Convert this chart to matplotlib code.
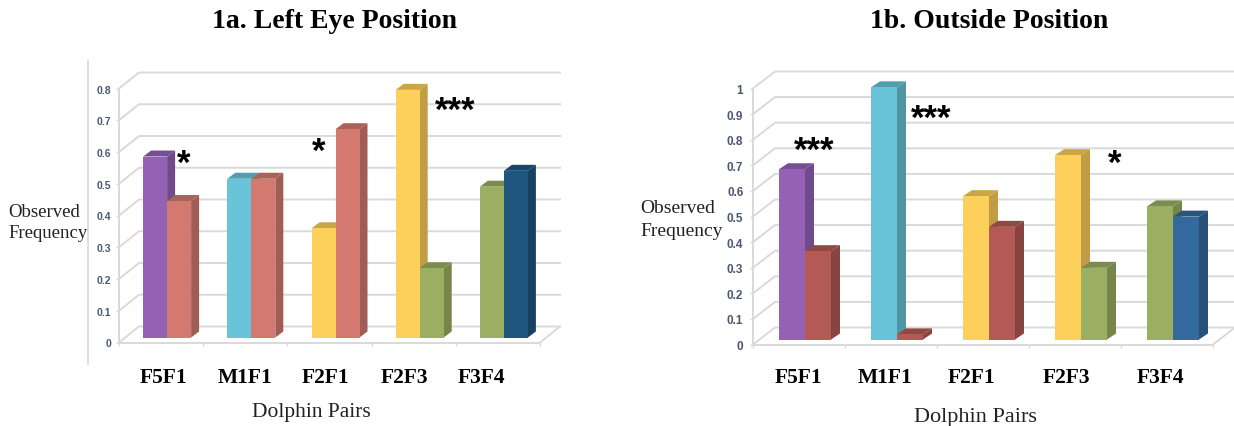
import matplotlib
matplotlib.use("Agg")
import matplotlib.pyplot as plt
from matplotlib.patches import Polygon
from matplotlib.transforms import Affine2D

categories = ["F5F1", "M1F1", "F2F1", "F2F3", "F3F4"]
left_first = [0.57, 0.50, 0.344, 0.78, 0.475]
left_second = [0.43, 0.50, 0.656, 0.218, 0.525]
right_first = [0.665, 0.985, 0.56, 0.72, 0.52]
right_second = [0.345, 0.02, 0.44, 0.28, 0.48]
left_first_colors = ["#9461B5", "#68C4D8", "#FDCF5B", "#FDCF5B", "#9BAF62"]
left_second_colors = ["#D47970", "#D47970", "#D47970", "#9BAF62", "#1F5680"]
right_first_colors = ["#9461B5", "#68C4D8", "#FDCF5B", "#FDCF5B", "#9BAF62"]
right_second_colors = ["#B35A55", "#B35A55", "#B35A55", "#9BAF62", "#33699D"]
left_ticks = [0, 0.1, 0.2, 0.3, 0.4, 0.5, 0.6, 0.7, 0.8]
right_ticks = [0, 0.1, 0.2, 0.3, 0.4, 0.5, 0.6, 0.7, 0.8, 0.9, 1]

W, H = 1234, 427
fig = plt.figure(figsize=(W / 100, H / 100), dpi=100, facecolor="white")
plt.rcParams["font.family"] = ["Liberation Serif", "DejaVu Serif"]
SERIF = "Liberation Serif"
SANS = "Liberation Sans"
GRID = "#D9D9D9"


def shade(color, f):
    r, g, b = matplotlib.colors.to_rgb(color)
    return (r * f, g * f, b * f)


def panel(x0, x1, y0, y1, ymax, first, second, c1, c2, ticks, bw, wall, depth, off, tick_size, pad):
    ax = fig.add_axes([x0 / W, 1 - y0 / H, (x1 - x0) / W, (y0 - y1) / H])
    ax.set_xlim(0, len(first))
    ax.set_ylim(0, ymax)
    ax.patch.set_alpha(0)
    for s in ax.spines.values():
        s.set_visible(False)
    for side in ("left", "bottom"):
        ax.spines[side].set_visible(True)
        ax.spines[side].set_color(GRID)
        ax.spines[side].set_linewidth(1.4)

    ux = len(first) / (x1 - x0)
    uy = ymax / (y0 - y1)
    wdx, wdy = wall[0] * ux, wall[1] * uy
    for t in ticks:
        ax.plot([0, wdx, len(first) + wdx], [t, t + wdy, t + wdy], color=GRID, lw=1.4,
                clip_on=False, zorder=1)
    ax.plot([len(first), len(first) + wdx], [0, wdy], color=GRID, lw=1.4, clip_on=False, zorder=1)

    ax.set_yticks(ticks)
    ax.set_yticklabels([f"{t:g}" for t in ticks], fontfamily=SANS, fontsize=tick_size,
                       fontweight="bold", color="#4A5872")
    ax.set_xticks(range(len(first) + 1))
    ax.set_xticklabels([])
    ax.tick_params(axis="both", length=2.5, color=GRID, width=1, pad=pad)

    tr = ax.transData + Affine2D().translate(*off)
    bx, by = depth[0] * ux, depth[1] * uy
    w = bw * ux
    for i in range(len(first)):
        for v, c, left, z in ((first[i], c1[i], i + 0.5 - w, 2), (second[i], c2[i], i + 0.5, 3)):
            ax.bar(left, v, width=w, align="edge", color=c, transform=tr, clip_on=False,
                   zorder=z + 0.2, linewidth=0)
            ax.add_patch(Polygon([(left + w, 0), (left + w + bx, by), (left + w + bx, v + by), (left + w, v)],
                                 closed=True, fc=shade(c, 0.76), lw=0, transform=tr, clip_on=False, zorder=z))
            ax.add_patch(Polygon([(left, v), (left + bx, v + by), (left + w + bx, v + by), (left + w, v)],
                                 closed=True, fc=shade(c, 0.8), lw=0, transform=tr, clip_on=False, zorder=z))
    return ax


panel(119, 540, 343.5, 89.5, 0.8, left_first, left_second, left_first_colors, left_second_colors,
      left_ticks, 24, (20, 16), (8, 6), (6, 5), 7.5, 3)
panel(753, 1213, 345.5, 89.5, 1.0, right_first, right_second, right_first_colors, right_second_colors,
      right_ticks, 26, (22, 17), (9, 6), (6, 5), 8.5, 4.5)


def px_text(x, y, s, **kw):
    kw.setdefault("ha", "center")
    kw.setdefault("va", "center")
    kw.setdefault("family", SERIF)
    fig.text(x / W, 1 - y / H, s, **kw)


fig.add_artist(plt.Line2D([88 / W, 88 / W], [1 - 62 / H, 1 - 365 / H], color=GRID, lw=1.2))

px_text(334, 21, "1a. Left Eye Position", fontsize=20, fontweight="bold", color="black")
px_text(989, 21, "1b. Outside Position", fontsize=20, fontweight="bold", color="black")

for x, c in zip([164, 245, 326, 404, 481], categories):
    px_text(x, 378, c, fontsize=15.5, fontweight="bold", color="black")
for x, c in zip([798.5, 885, 971, 1066, 1160], categories):
    px_text(x, 378, c, fontsize=15.5, fontweight="bold", color="black")

px_text(311.5, 413, "Dolphin Pairs", fontsize=15.5, color="#222222")
px_text(975, 418, "Dolphin Pairs", fontsize=16, color="#222222")
px_text(8, 213, "Observed", fontsize=13.5, ha="left", color="#222222")
px_text(8, 234, "Frequency", fontsize=13.5, ha="left", color="#222222")
px_text(640, 209, "Observed", fontsize=14, ha="left", color="#222222")
px_text(640, 232, "Frequency", fontsize=14, ha="left", color="#222222")

for x, y, s in [(184, 158, "*"), (319, 146, "*"), (455, 105, "***"),
                (814, 145, "***"), (931, 113, "***"), (1115, 158, "*")]:
    px_text(x, y + 6, s, family=SANS, fontsize=25, fontweight="bold", color="black")

fig.savefig("out.png", dpi=100)
